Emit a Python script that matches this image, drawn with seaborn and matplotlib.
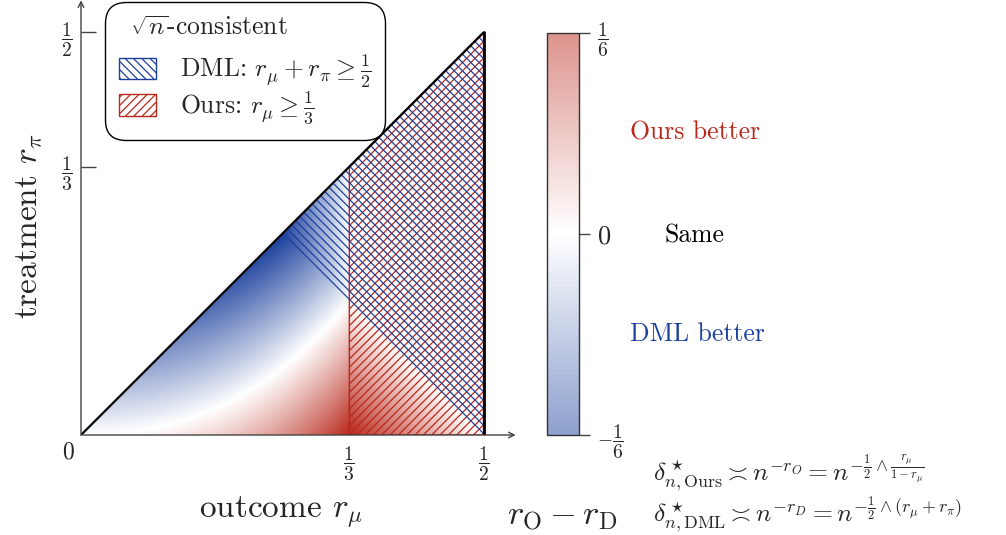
import numpy as np
import pandas as pd
import matplotlib
matplotlib.use("Agg")
import matplotlib.pyplot as plt
import seaborn as sns
from matplotlib.colors import LinearSegmentedColormap, Normalize, to_rgb
from matplotlib.patches import Polygon, Patch
import matplotlib.cm as cm

# ---------------- data ----------------
R_MAX = 0.5                 # rates range over [0, 1/2]
OURS_THRESH = 1 / 3         # Ours root-n consistent: r_mu >= 1/3
DML_THRESH = 1 / 2          # DML root-n consistent: r_mu + r_pi >= 1/2
X_TICKS = [1 / 3, 1 / 2]
X_TICK_LABELS = [r"$\dfrac{1}{3}$", r"$\dfrac{1}{2}$"]
Y_TICKS = [1 / 3, 1 / 2]
Y_TICK_LABELS = [r"$\dfrac{1}{3}$", r"$\dfrac{1}{2}$"]
CBAR_TICKS = [-1 / 6, 0, 1 / 6]
CBAR_LABELS = [r"$-\dfrac{1}{6}$", r"$0$", r"$\dfrac{1}{6}$"]
CMAP_COLORS = ["#1b409c", "#ffffff", "#b9281b"]
BLUE = "#1b409c"
RED = "#b9281b"
N = 400

# ---------------- style ----------------
sns.set_style("white")
plt.rcParams["font.family"] = ["cmr10", "DejaVu Serif"]
plt.rcParams["mathtext.fontset"] = "cm"
plt.rcParams["axes.formatter.use_mathtext"] = True
plt.rcParams["hatch.linewidth"] = 0.9

W, H = 1006, 535
fig = plt.figure(figsize=(W / 100, H / 100), dpi=100)

def fx(px):
    return px / W

def fy(py):
    return 1 - py / H

EXT = 0.54
PPU = 805.0  # pixels per unit rate
ax = fig.add_axes([fx(81), fy(435), EXT * PPU / W, EXT * PPU / H])

# field r_O - r_D on the lower triangle r_pi <= r_mu
r = (np.arange(N) + 0.5) * R_MAX / N
RMU, RPI = np.meshgrid(r, r)
r_O = np.minimum(0.5, RMU / (1 - RMU))
r_D = np.minimum(0.5, RMU + RPI)
diff = pd.DataFrame(r_O - r_D)
mask = RPI > RMU

cmap = LinearSegmentedColormap.from_list("rb", CMAP_COLORS)
sns.heatmap(diff, mask=mask, cmap=cmap, vmin=CBAR_TICKS[0], vmax=CBAR_TICKS[-1],
            cbar=False, ax=ax, xticklabels=False, yticklabels=False,
            linewidths=0, rasterized=True)
S = N / R_MAX
ax.set_xlim(0, EXT * S)
ax.set_ylim(0, EXT * S)
ax.set_aspect("auto")
for sp in ax.spines.values():
    sp.set_visible(False)

# hatched regions
dml_poly = np.array([[DML_THRESH / 2, DML_THRESH / 2], [R_MAX, R_MAX], [R_MAX, 0]]) * S
ours_poly = np.array([[OURS_THRESH, 0], [R_MAX, 0], [R_MAX, R_MAX],
                      [OURS_THRESH, OURS_THRESH]]) * S
ax.add_patch(Polygon(ours_poly, closed=True, fill=False, edgecolor=RED, lw=1.0,
                     hatch="////", zorder=3))
ax.add_patch(Polygon(dml_poly, closed=True, fill=False, edgecolor=BLUE, lw=0,
                     hatch="\\\\\\\\", zorder=3))

# triangle border lines
ax.plot([0, R_MAX * S], [0, R_MAX * S], color="black", lw=1.6, zorder=4)
ax.plot([R_MAX * S, R_MAX * S], [0, R_MAX * S], color="black", lw=2.0, zorder=4)

# axes with arrows
AX_COL = "#444444"
ax.annotate("", xy=(EXT * S, 0), xytext=(0, 0),
            arrowprops=dict(arrowstyle="->", color=AX_COL, lw=1.0, shrinkA=0, shrinkB=0),
            annotation_clip=False, zorder=5)
ax.annotate("", xy=(0, EXT * S), xytext=(0, 0),
            arrowprops=dict(arrowstyle="->", color=AX_COL, lw=1.0, shrinkA=0, shrinkB=0),
            annotation_clip=False, zorder=5)

ax.set_xticks([v * S for v in X_TICKS])
ax.set_xticklabels(X_TICK_LABELS, fontsize=14)
ax.set_yticks([v * S for v in Y_TICKS])
ax.set_yticklabels(Y_TICK_LABELS, fontsize=14)
ax.tick_params(axis="both", direction="in", length=11, width=1.0, color=AX_COL,
               bottom=True, left=True)
ax.tick_params(axis="x", pad=7)
ax.tick_params(axis="y", pad=6)

fig.text(fx(68), fy(452), "0", fontsize=17, ha="center", va="center")

# axis labels
fig.text(fx(281), fy(512), r"outcome $r_\mu$", fontsize=24, ha="center", va="center")
fig.text(fx(30), fy(226), r"treatment $r_\pi$", fontsize=24, ha="center",
         va="center", rotation=90)

# legend
handles = [Patch(facecolor="white", edgecolor=BLUE, hatch="\\\\\\\\", lw=1.0,
                 label=r"DML: $r_\mu + r_\pi \geq \frac{1}{2}$"),
           Patch(facecolor="white", edgecolor=RED, hatch="////", lw=1.0,
                 label=r"Ours: $r_\mu \geq \frac{1}{3}$")]
leg = fig.legend(handles=handles, title=r"$\enspace\sqrt{n}$-consistent", loc="upper left",
                 bbox_to_anchor=(fx(105), fy(2)), bbox_transform=fig.transFigure,
                 borderaxespad=0, fontsize=18.5, title_fontsize=18.5, frameon=True,
                 fancybox=True, edgecolor="black", framealpha=1,
                 handlelength=1.45, handleheight=0.9, handletextpad=0.9,
                 labelspacing=0.0, borderpad=0.55, alignment="left")
leg._legend_box.sep = 9
leg.get_frame().set_linewidth(1.0)
leg.get_frame().set_boxstyle("round,pad=0,rounding_size=0.8")

# colorbar
def lighten(c, a=0.5):
    rgb = np.array(to_rgb(c))
    return tuple(1 - a * (1 - rgb))

cmap_light = LinearSegmentedColormap.from_list("rb_light", [lighten(c) for c in CMAP_COLORS])
cax = fig.add_axes([fx(547), fy(435), 32 / W, 402 / H])
sm = cm.ScalarMappable(norm=Normalize(CBAR_TICKS[0], CBAR_TICKS[-1]), cmap=cmap_light)
cbar = fig.colorbar(sm, cax=cax)
cbar.set_ticks(CBAR_TICKS)
cbar.set_ticklabels(CBAR_LABELS)
for lbl, t in zip(cax.get_yticklabels(), CBAR_TICKS):
    lbl.set_fontsize(19 if t == 0 else 14)
cax.tick_params(axis="y", length=8, width=1.0, color=AX_COL, pad=5)
cbar.outline.set_edgecolor("#333333")
cbar.outline.set_linewidth(1.0)

fig.text(fx(630), fy(133), "Ours better", fontsize=18.5, color=RED, ha="left", va="center")
fig.text(fx(664), fy(236), "Same", fontsize=18.5, color="black", ha="left", va="center")
fig.text(fx(630), fy(334), "DML better", fontsize=18.5, color=BLUE, ha="left", va="center")

fig.text(fx(562), fy(517), r"$r_{\mathrm{O}} - r_{\mathrm{D}}$", fontsize=25,
         ha="center", va="center")
fig.text(fx(653), fy(481),
         r"$\delta^\star_{n,\mathrm{Ours}} \asymp n^{-r_O} = n^{-\frac{1}{2}\wedge\frac{r_\mu}{1-r_\mu}}$",
         fontsize=18.5, ha="left", va="baseline")
fig.text(fx(653), fy(523),
         r"$\delta^\star_{n,\mathrm{DML}} \asymp n^{-r_D} = n^{-\frac{1}{2}\wedge(r_\mu+r_\pi)}$",
         fontsize=18.5, ha="left", va="baseline")

fig.savefig("out.png", dpi=100)
